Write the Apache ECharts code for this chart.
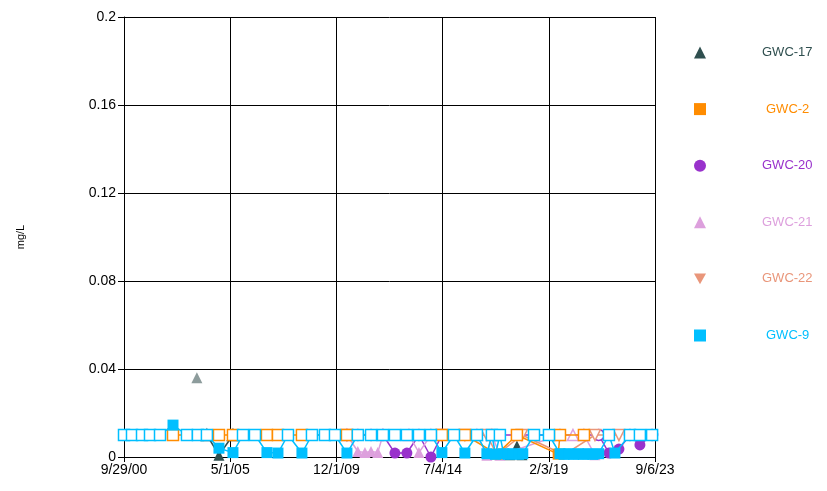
<!DOCTYPE html>
<html><head><meta charset="utf-8">
<script src="https://cdn.jsdelivr.net/npm/echarts@6/dist/echarts.min.js"></script>
<style>html,body{margin:0;padding:0;background:#fff}#c{width:827px;height:491px}</style>
</head><body><div id="c"></div>
<script>
// ---- axis ticks ----
const xTickLabels = ['9/29/00', '5/1/05', '12/1/09', '7/4/14', '2/3/19', '9/6/23'];
const yMin = 0, yMax = 0.2, yStep = 0.04;
const reportingLimit = 0.01; // non-detects ('ND') are plotted hollow at this level

// ---- series data: dates + values ('ND' = below reporting limit, null = line break) ----
const gwc17Dates = ['2003-11-23', '2004-01-15', '2004-04-29', '2004-11-05', '2005-06-14', '2010-01-01', '2017-06-01', '2017-09-19', '2017-12-07'];
const gwc17Values = [0.036, null, 'ND', 0.0008, 'ND', null, 0.001, 0.005, 0.001];
const gwc17Flagged = ['2003-11-23'];

const gwc2Dates = ['2002-11-11', '2004-11-05', '2005-06-14', '2006-12-02', '2007-05-25', '2008-06-06', '2010-05-17', '2014-06-23', '2015-06-21', '2016-11-07', '2017-09-19', '2019-07-01', '2019-07-30', '2020-08-11'];
const gwc2Values = ['ND', 'ND', 'ND', 'ND', 'ND', 'ND', 'ND', 'ND', 'ND', 0.0013, 'ND', 0.0013, 'ND', 'ND'];

const gwc20Dates = ['2010-05-17', '2010-11-05', '2011-06-01', '2011-12-06', '2012-06-12', '2012-12-18', '2013-06-26', '2014-01-01', '2014-06-23', '2021-04-01', '2021-09-09', '2022-02-14', '2022-08-07', '2023-01-11', '2023-07-22'];
const gwc20Values = ['ND', 'ND', 'ND', 'ND', 0.0018, 0.0018, 'ND', 0.0, 'ND', 'ND', 0.0018, 0.0036, 'ND', 0.0055, 'ND'];

const gwc21Dates = ['2010-05-17', '2010-11-05', '2011-02-25', '2011-06-01', '2011-09-15', '2011-12-06', '2013-01-20', '2013-06-26', '2014-01-01', '2015-12-28', '2016-06-02', '2016-08-20', '2016-12-24', '2019-07-30', '2020-02-20', '2020-08-11', '2021-02-01'];
const gwc21Values = ['ND', 0.0025, 0.002, 0.0025, 0.002, 'ND', 'ND', 0.002, 'ND', 'ND', 0.0008, 'ND', 0.0008, 'ND', 'ND', 'ND', 0.001];

const gwc22Dates = ['2010-05-17', '2014-06-23', '2015-06-21', '2016-06-02', '2016-11-07', '2017-12-07', '2019-10-01', '2021-02-01', '2022-02-14'];
const gwc22Values = ['ND', 'ND', 'ND', 'ND', 0.001, 'ND', 0.001, 'ND', 'ND'];

const gwc9Dates = ['2000-09-29', '2001-02-02', '2001-07-10', '2001-11-13', '2002-04-20', '2002-11-11', '2003-06-19', '2003-12-09', '2004-04-29', '2004-11-05',
  '2005-06-14', '2005-11-19', '2006-05-27', '2006-12-02', '2007-05-25', '2007-10-30', '2008-06-06', '2008-11-11', '2009-06-04', '2009-11-09',
  '2010-05-17', '2010-11-05', '2011-06-01', '2011-12-06', '2012-06-12', '2012-12-18', '2013-06-26', '2014-01-01', '2014-06-23', '2014-12-30',
  '2015-06-21', '2015-12-28', '2016-06-02', '2016-08-20', '2016-10-15', '2016-12-24', '2017-02-20', '2017-05-01', '2017-07-15', '2017-10-15',
  '2017-12-20', '2018-06-15', '2019-02-06', '2019-07-30', '2019-10-01', '2019-12-15', '2020-03-01', '2020-05-15', '2020-08-01', '2020-10-15',
  '2021-01-01', '2021-04-01', '2021-09-09', '2021-12-13', '2022-08-07', '2023-01-11', '2023-07-22'];
const gwc9Values = ['ND', 'ND', 'ND', 'ND', 'ND', 0.0145, 'ND', 'ND', 'ND', 0.004,
  0.002, 'ND', 'ND', 0.002, 0.0018, 'ND', 0.0018, 'ND', 'ND', 'ND',
  0.0018, 'ND', 'ND', 'ND', 'ND', 'ND', 'ND', 'ND', 0.002, 'ND',
  0.0018, 'ND', 0.0015, 'ND', 0.0012, 'ND', 0.0015, 0.0012, 0.0015, 0.0012,
  0.0015, 'ND', 'ND', 0.0015, 0.0012, 0.0015, 0.0012, 0.0015, 0.0012, 0.0015,
  0.0012, 0.0015, 'ND', 0.0018, 'ND', 'ND', 'ND'];

// ---- helpers ----
function parseTick(s) { const [m, d, y] = s.split('/').map(Number); return Date.UTC(2000 + y, m - 1, d); }
const startMs = parseTick(xTickLabels[0]);
const DAY = 86400000;
const endDay = Math.round((parseTick(xTickLabels[xTickLabels.length - 1]) - startMs) / DAY);
const xInterval = endDay / (xTickLabels.length - 1);
function dayOf(s) { const [y, m, d] = s.split('-').map(Number); return Math.round((Date.UTC(y, m - 1, d) - startMs) / DAY); }

const downTri = 'path://M0,0L10,0L5,9Z';
const FONT = 'Liberation Sans, Arial, sans-serif';

function build(name, dates, values, color, symbol, size, z, flagged) {
  const data = dates.map((d, i) => {
    const v = values[i];
    const x = dayOf(d);
    if (v === null) return { value: [x, '-'] };
    if (v === 'ND') return { value: [x, reportingLimit], itemStyle: { color: '#fff', borderColor: color, borderWidth: 1.5 } };
    if (flagged && flagged.includes(d)) return { value: [x, v], itemStyle: { color: '#8d9c9c' } };
    return { value: [x, v] };
  });
  return {
    name, type: 'line', data, symbol, symbolSize: size, z,
    showSymbol: true, connectNulls: false, clip: false,
    lineStyle: { color, width: 1.5 },
    itemStyle: { color, borderWidth: 0 },
    emphasis: { disabled: true }
  };
}

const seriesDefs = [
  { name: 'GWC-17', dates: gwc17Dates, values: gwc17Values, color: '#2f4f4f', symbol: 'triangle', size: 11, z: 2, flagged: gwc17Flagged, pad: 51 },
  { name: 'GWC-2', dates: gwc2Dates, values: gwc2Values, color: '#ff8c00', symbol: 'rect', size: 11, z: 6, pad: 55 },
  { name: 'GWC-20', dates: gwc20Dates, values: gwc20Values, color: '#9932cc', symbol: 'circle', size: 11, z: 3, pad: 51 },
  { name: 'GWC-21', dates: gwc21Dates, values: gwc21Values, color: '#dda0dd', symbol: 'triangle', size: 11, z: 4, pad: 51 },
  { name: 'GWC-22', dates: gwc22Dates, values: gwc22Values, color: '#e9967a', symbol: downTri, size: 11, z: 5, pad: 51 },
  { name: 'GWC-9', dates: gwc9Dates, values: gwc9Values, color: '#00bfff', symbol: 'rect', size: 11, z: 7, pad: 55 }
];

const chart = echarts.init(document.getElementById('c'), null, { renderer: 'canvas' });
chart.setOption({
  animation: false,
  backgroundColor: '#fff',
  grid: { left: 124, right: 172, top: 17, bottom: 34, containLabel: false },
  xAxis: {
    type: 'value', min: 0, max: endDay, interval: xInterval,
    axisLine: { show: true, onZero: false, lineStyle: { color: '#000', width: 1 } },
    axisTick: { show: true, length: 5, lineStyle: { color: '#000' } },
    splitLine: { show: true, lineStyle: { color: '#000', width: 1 } },
    axisLabel: {
      color: '#000', fontSize: 14, fontFamily: FONT, margin: 6, hideOverlap: false,
      formatter: v => xTickLabels[Math.round(v / xInterval)] || ''
    }
  },
  yAxis: {
    type: 'value', min: yMin, max: yMax, interval: yStep,
    name: 'mg/L', nameLocation: 'middle', nameGap: 98, nameRotate: 90,
    nameTextStyle: { color: '#000', fontSize: 11, fontFamily: FONT },
    axisLine: { show: true, lineStyle: { color: '#000', width: 1 } },
    axisTick: { show: true, length: 6, lineStyle: { color: '#000' } },
    splitLine: { show: true, lineStyle: { color: '#000', width: 1 } },
    axisLabel: { color: '#000', fontSize: 14, fontFamily: FONT, margin: 8 }
  },
  legend: {
    orient: 'vertical', left: 694, top: 46, padding: 0,
    itemWidth: 12, itemHeight: 12, itemGap: 43.6,
    selectedMode: false,
    textStyle: { fontSize: 13, fontFamily: FONT },
    data: seriesDefs.map(s => ({
      name: s.name,
      icon: s.symbol,
      itemStyle: { color: s.color, borderWidth: 0 },
      textStyle: { color: s.color, padding: [0, 0, 0, s.pad] }
    }))
  },
  series: seriesDefs.map(s => build(s.name, s.dates, s.values, s.color, s.symbol, s.size, s.z, s.flagged))
});
</script>
</body></html>
